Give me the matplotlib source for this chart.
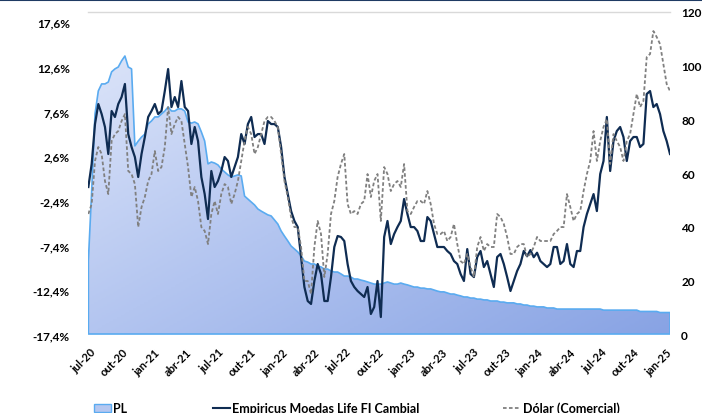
import numpy as np
import pandas as pd
import matplotlib
matplotlib.use('Agg')
import matplotlib.pyplot as plt
import matplotlib.dates as mdates
from matplotlib.colors import LinearSegmentedColormap
from matplotlib.lines import Line2D
from matplotlib.patches import Rectangle

plt.rcParams['font.family'] = ['Lato', 'DejaVu Sans']

# Empiricus Moedas Life FI Cambial, acumulado em %
fund = [-0.85, 1.72, 6.19, 8.43, 7.31, 5.86, 2.84, 7.65, 6.98, 8.43,
        9.21, 10.67, 5.07, 3.62, 2.50, 0.27, 2.84, 4.74, 6.98, 7.65,
        8.43, 7.31, 7.65, 9.88, 12.34, 8.09, 9.21, 8.09, 11.00, 8.09,
        7.65, 3.96, 5.86, 4.29, 0.27, -1.64, -4.43, 0.94, -0.85, -0.18,
        0.94, 2.50, 2.06, 0.27, 1.38, 2.50, 5.07, 3.96, 6.19, 6.98,
        4.74, 5.07, 5.07, 3.96, 6.53, 6.19, 6.19, 5.86, 3.62, 0.27,
        -1.64, -3.54, -4.65, -5.33, -8.68, -12.03, -13.60, -13.93, -11.36, -9.46,
        -10.58, -13.60, -13.60, -10.92, -7.56, -6.33, -6.44, -6.89, -9.46, -11.36,
        -12.03, -12.48, -12.82, -13.15, -12.03, -15.05, -14.27, -11.36, -15.39, -6.44,
        -4.65, -7.23, -6.11, -5.33, -4.65, -2.19, -3.87, -5.33, -5.33, -5.77,
        -6.89, -6.89, -4.21, -4.65, -6.11, -7.56, -7.56, -7.56, -8.01, -8.34,
        -9.13, -9.46, -10.58, -11.36, -7.79, -10.58, -10.92, -8.68, -8.01, -9.80,
        -9.13, -10.58, -12.03, -8.68, -8.34, -9.46, -10.92, -12.48, -11.36, -10.25,
        -9.46, -8.00, -8.60, -7.90, -8.70, -8.20, -9.13, -9.46, -9.80, -9.46,
        -7.56, -7.56, -9.46, -9.13, -7.23, -9.46, -9.80, -8.01, -8.01, -5.33,
        -3.87, -2.75, -1.64, -3.54, 0.60, 2.06, 6.98, 0.94, 4.29, 5.41,
        5.86, 4.74, 2.06, 4.29, 4.74, 4.74, 3.62, 3.96, 9.55, 9.88,
        8.09, 8.43, 7.31, 5.41, 4.29, 2.84]

# Dólar (Comercial), acumulado em %
dolar = [-3.87, -2.75, 2.06, 3.62, 2.84, -0.18, -1.64, 4.29, 5.07, 5.41,
         6.53, 7.31, 0.94, 0.60, -0.52, -5.33, -3.09, -1.97, -0.18, 0.60,
         3.17, 0.94, 1.38, 3.62, 8.09, 5.07, 6.19, 6.98, 6.53, 3.96,
         1.38, -1.97, -0.85, -2.42, -5.33, -5.77, -7.23, -3.87, -2.42, -3.87,
         -1.64, -0.52, -0.85, -2.75, -1.64, -0.18, 2.06, 4.29, 5.86, 5.07,
         2.84, 3.62, 5.07, 6.53, 6.98, 6.98, 6.53, 5.86, 2.84, -0.18,
         -1.97, -4.21, -5.33, -5.33, -7.56, -11.36, -11.36, -12.82, -7.56, -4.65,
         -6.11, -10.92, -8.34, -3.87, -2.42, 0.27, 1.72, 2.84, -2.75, -3.87,
         -3.54, -3.87, -2.75, -2.42, 0.60, -1.97, -0.18, 0.60, -4.65, 1.38,
         0.60, -1.30, -0.52, -0.18, -0.85, 1.72, -3.54, -3.87, -3.09, -2.42,
         -2.42, -2.75, -1.30, -2.75, -4.99, -6.11, -6.11, -5.77, -6.89, -6.44,
         -4.99, -7.23, -9.13, -9.46, -8.34, -9.80, -10.92, -7.56, -6.44, -8.01,
         -7.23, -7.56, -7.56, -3.87, -4.21, -4.99, -6.44, -8.34, -8.34, -7.56,
         -7.23, -7.23, -8.68, -8.34, -7.56, -6.44, -6.89, -6.89, -6.89, -6.89,
         -6.11, -5.77, -5.33, -5.33, -1.64, -3.09, -4.65, -3.87, -3.54, -1.30,
         0.60, 2.06, 5.41, 2.06, 4.29, 5.86, 6.75, 1.72, 5.07, 4.29,
         3.62, 2.06, 4.29, 5.07, 7.31, 9.55, 8.09, 8.76, 13.68, 14.02,
         16.59, 15.92, 15.14, 12.90, 10.67, 9.88]

# PL (eixo direito)
pl = [27.2, 53.3, 82.0, 90.6, 93.2, 93.2, 93.9, 97.7, 98.8, 99.5,
      101.8, 103.6, 99.5, 98.8, 70.1, 71.9, 73.4, 74.5, 78.3, 79.4,
      80.9, 80.9, 82.0, 83.1, 84.6, 83.1, 83.1, 83.9, 83.9, 83.1,
      79.0, 78.6, 79.0, 78.3, 75.3, 71.9, 63.4, 64.1, 63.7, 63.0,
      61.5, 60.4, 59.3, 58.5, 58.9, 59.3, 58.9, 51.4, 50.3, 49.2,
      48.1, 46.6, 45.8, 45.1, 44.4, 44.0, 42.5, 41.0, 38.4, 36.5,
      34.7, 32.8, 31.7, 30.6, 29.1, 27.2, 26.8, 26.1, 26.1, 25.3,
      25.0, 24.2, 24.2, 23.5, 23.1, 23.1, 22.4, 21.6, 21.6, 21.2,
      20.5, 20.5, 20.1, 19.8, 19.4, 19.0, 18.6, 18.6, 18.6, 19.0,
      19.4, 19.0, 18.6, 18.6, 19.0, 18.6, 18.3, 17.9, 17.5, 17.5,
      17.1, 17.1, 16.8, 16.8, 16.4, 16.0, 15.7, 15.7, 15.3, 14.9,
      14.9, 14.5, 14.2, 13.8, 13.8, 13.4, 13.4, 13.0, 13.0, 12.7,
      12.7, 12.3, 12.3, 12.3, 11.9, 11.9, 11.6, 11.6, 11.6, 11.2,
      11.2, 10.8, 10.8, 10.4, 10.4, 10.1, 10.1, 10.1, 9.7, 9.7,
      9.7, 9.3, 9.3, 9.3, 9.3, 9.3, 9.3, 9.3, 9.3, 9.3,
      9.3, 9.3, 9.3, 9.3, 9.3, 8.9, 8.9, 8.9, 8.9, 8.9,
      8.9, 8.9, 8.9, 8.9, 8.9, 8.9, 8.4, 8.4, 8.4, 8.4,
      8.4, 8.4, 8.0, 8.0, 8.0, 8.0]

dates = pd.date_range('2020-06-26', '2025-01-13', periods=len(fund))

left_ticks = [-17.4, -12.4, -7.4, -2.4, 2.6, 7.6, 12.6, 17.6]
left_labels = ['-17,4%', '-12,4%', '-7,4%', '-2,4%', '2,6%', '7,6%', '12,6%', '17,6%']
right_ticks = [0, 20, 40, 60, 80, 100, 120]
x_ticks = pd.date_range('2020-07-01', '2025-01-01', freq='QS-JAN')
x_labels = ['jul-20', 'out-20', 'jan-21', 'abr-21', 'jul-21', 'out-21', 'jan-22',
            'abr-22', 'jul-22', 'out-22', 'jan-23', 'abr-23', 'jul-23', 'out-23',
            'jan-24', 'abr-24', 'jul-24', 'out-24', 'jan-25']

navy = '#0f2c52'
gray = '#808080'
edge = '#5aabf0'

W, H = 702, 414
fig = plt.figure(figsize=(W / 100, H / 100), dpi=100)
ax = fig.add_axes([88 / W, 1 - 336 / H, (670 - 88) / W, (336 - 13) / H])
ax2 = ax.twinx()
ax.set_zorder(ax2.get_zorder() + 1)
ax.patch.set_visible(False)

x0 = pd.Timestamp('2020-06-25')
x1 = pd.Timestamp('2025-01-13')

# area PL com degrade
poly = ax2.fill_between(dates, 0, pl, facecolor='none', edgecolor=edge, linewidth=1.2, zorder=3)
cmap = LinearSegmentedColormap.from_list('pl', ['#e2e9fa', '#b3c5f0', '#88a3e4'])
gx, gy = np.meshgrid(np.linspace(0, 1, 300), np.linspace(0, 1, 150))
grad = 0.5 * gx + 0.5 * gy
im = ax2.imshow(grad, cmap=cmap, aspect='auto', origin='upper', zorder=2,
                extent=[mdates.date2num(x0), mdates.date2num(x1), 0, 120])
im.set_clip_path(poly.get_paths()[0], transform=ax2.transData)

ax.plot(dates, fund, color=navy, lw=1.6, zorder=3)
ax.plot(dates, dolar, color=gray, lw=1.3, ls=(0, (2, 1.3)), zorder=4)

ax.set_xlim(x0, x1)
ax.set_ylim(-17.4, 18.72)
ax2.set_ylim(-0.37, 120)

ax.set_yticks(left_ticks)
ax.set_yticklabels(left_labels, fontweight='bold', fontsize=8.5)
ax2.set_yticks(right_ticks)
ax2.set_yticklabels([str(t) for t in right_ticks], fontweight='bold', fontsize=8.5)
ax.set_xticks(x_ticks)
ax.set_xticklabels(x_labels, rotation=45, ha='right', va='top', rotation_mode='anchor',
                   fontweight='bold', fontsize=8)
ax.tick_params(axis='y', length=0, pad=13)
ax2.tick_params(axis='y', length=0, pad=8)
ax.tick_params(axis='x', length=0, pad=8)

for a in (ax, ax2):
    for s in a.spines.values():
        s.set_visible(False)

ax.plot([0, 1], [1, 1], transform=ax.transAxes, color='#d9d9d9', lw=1, clip_on=False)
fig.add_artist(Line2D([0, 1], [0.997, 0.997], transform=fig.transFigure, color='#1f3b63', lw=1.5))

# legenda
yb = 1 - 413 / H
ym = 1 - 409 / H
fig.add_artist(Rectangle((94 / W, 1 - 413 / H), 17 / W, 8 / H, transform=fig.transFigure,
                         facecolor='#b5c7f0', edgecolor=edge, lw=1))
fig.text(113 / W, yb, 'PL', fontweight='bold', fontsize=9, va='baseline')
fig.add_artist(Line2D([213 / W, 230 / W], [ym, ym], transform=fig.transFigure, color=navy, lw=1.5))
fig.text(232 / W, yb, 'Empiricus Moedas Life FI Cambial', fontweight='bold', fontsize=9, va='baseline')
fig.add_artist(Line2D([503 / W, 520 / W], [ym, ym], transform=fig.transFigure, color=gray,
                      lw=1.3, ls=(0, (2, 1.3))))
fig.text(523 / W, yb, 'Dólar (Comercial)', fontweight='bold', fontsize=9, va='baseline')

fig.savefig('out.png', dpi=100)
